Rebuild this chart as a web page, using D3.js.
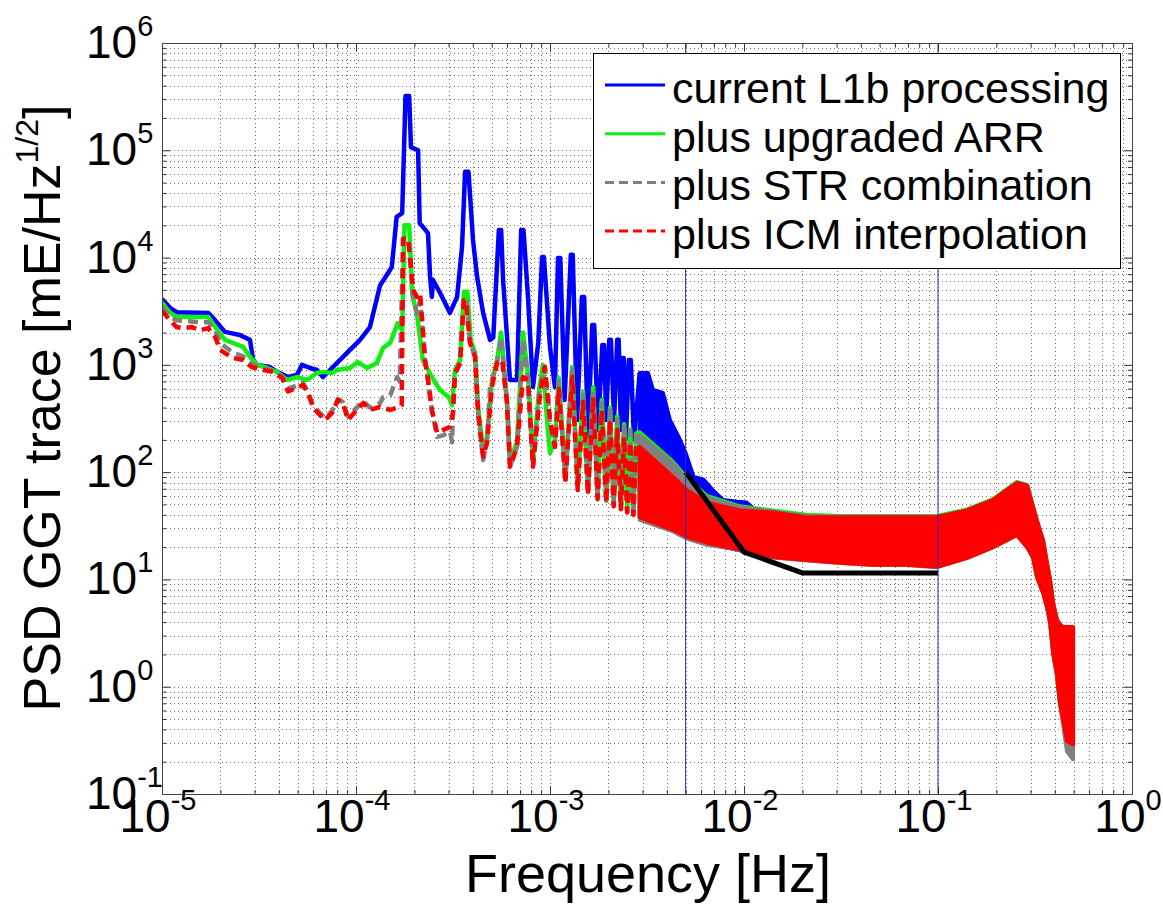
<!DOCTYPE html>
<html><head><meta charset="utf-8">
<script src="https://cdn.jsdelivr.net/npm/d3@7"></script>
<style>body{margin:0;background:#fff} svg{display:block} text{font-family:"Liberation Sans",Arial,sans-serif;fill:#000}</style>
</head><body><svg id="c" width="1163" height="908"></svg>
<script>
// ---------------- data (frequency [Hz], PSD value) ----------------
const xTickExps = [-5, -4, -3, -2, -1, 0];
const yTickExps = [-1, 0, 1, 2, 3, 4, 5, 6];
const seriesNames = ["current L1b processing", "plus upgraded ARR", "plus STR combination", "plus ICM interpolation"];
const seriesColors = ["#0000ff", "#11ee11", "#808080", "#ff0000"];

const blueLine = [
 [1.0e-5,4100],[1.1e-5,3400],[1.19e-5,3100],[1.73e-5,3050],[1.88e-5,2600],[2.11e-5,2030],[2.52e-5,1900],
 [2.84e-5,1710],[2.95e-5,1110],[3.09e-5,1000],[3.6e-5,955],[3.92e-5,860],[4.46e-5,770],[4.96e-5,805],
 [5.27e-5,1000],[5.8e-5,935],[6.29e-5,895],[6.76e-5,770],[7.61e-5,955],[9.31e-5,1380],[1.05e-4,1710],
 [1.18e-4,2250],[1.33e-4,5500],[1.5e-4,7700],[1.53e-4,8200],[1.62e-4,2.4e4],[1.73e-4,2.6e4],[1.8e-4,3.2e5],
 [1.88e-4,3.2e5],[1.92e-4,1.07e5],[2.09e-4,1.0e5],[2.13e-4,2.1e4],[2.35e-4,1.69e4],[2.41e-4,6600],
 [2.46e-4,4300],[2.49e-4,6200],[2.71e-4,4700],[3.05e-4,3050],[3.32e-4,4300],[3.52e-4,1.26e4],[3.65e-4,6.3e4],
 [3.8e-4,6.3e4],[4.01e-4,1.46e4],[4.21e-4,6600],[4.52e-4,3050],[4.91e-4,1710],[5.1e-4,1800],[5.45e-4,1.81e4],
 [5.6e-4,1.81e4],[5.73e-4,6200],[6.22e-4,723],[6.76e-4,723],[7.1e-4,1.81e4],[7.3e-4,1.81e4],[7.7e-4,4300],
 [8.17e-4,622],[8.7e-4,1600],[9.1e-4,1.01e4],[9.3e-4,1.01e4],[1.0e-3,1470],[1.06e-3,622],[1.1e-3,9900],
 [1.13e-3,9900],[1.19e-3,471],[1.28e-3,1.06e4],[1.31e-3,1.06e4],[1.38e-3,306],[1.46e-3,4300],[1.5e-3,4300],
 [1.57e-3,213],[1.65e-3,2350],[1.69e-3,2350],[1.77e-3,247],[1.86e-3,1530],[1.9e-3,1530],[1.95e-3,306],
 [2.02e-3,1710],[2.06e-3,1710],[2.14e-3,306],[2.22e-3,1710],[2.26e-3,1710],[2.32e-3,247],[2.36e-3,1160],
 [2.4e-3,1160],[2.46e-3,200],[2.55e-3,1110],[2.61e-3,1110],[2.71e-3,200],[2.9e-3,840]
];
// dense part drawn as a band: [freq, lower envelope, upper envelope]
const blueBand = [
 [2.9e-3,38,840],[3.2e-3,36,840],[3.4e-3,35,583],[3.82e-3,32,547],[4.15e-3,30,306],[4.6e-3,28,213],
 [5.0e-3,25,151],[5.5e-3,24,90],[6.2e-3,22,85],[6.9e-3,21,68],[7.8e-3,20,55],[9.2e-3,19,53],
 [1.03e-2,18,52],[1.15e-2,17,44],[1.5e-2,16,42]
];

const greenLine = [
 [1.0e-5,3800],[1.1e-5,3050],[1.19e-5,2800],[1.73e-5,2800],[1.88e-5,2250],[2.11e-5,1710],[2.62e-5,1470],
 [2.84e-5,1190],[3.09e-5,1000],[3.48e-5,935],[3.92e-5,860],[4.41e-5,723],[4.96e-5,770],[5.59e-5,723],
 [6.29e-5,840],[6.76e-5,860],[7.52e-5,840],[7.98e-5,895],[9.31e-5,935],[1.02e-4,1060],[1.14e-4,935],
 [1.28e-4,1040],[1.38e-4,1440],[1.5e-4,1600],[1.64e-4,2450],[1.73e-4,2100],[1.78e-4,2.0e4],[1.88e-4,2.0e4],
 [1.95e-4,4500],[2.06e-4,3000],[2.21e-4,1110],[2.46e-4,770],[2.71e-4,583],[3.0e-4,502],[3.13e-4,420],
 [3.24e-4,900],[3.44e-4,1100],[3.6e-4,4800],[3.75e-4,4800],[3.9e-4,1700],[4.11e-4,1300],[4.26e-4,400],
 [4.52e-4,160],[4.73e-4,210],[5.02e-4,700],[5.33e-4,1100],[5.6e-4,2000],[6.0e-4,450],[6.22e-4,130],
 [6.76e-4,190],[7.26e-4,2000],[7.7e-4,800],[8.17e-4,130],[8.8e-4,600],[9.2e-4,1000],[9.6e-4,350],
 [1.0e-3,150],[1.06e-3,200],[1.11e-3,750],[1.2e-3,90],[1.3e-3,950],[1.39e-3,75],[1.48e-3,560],
 [1.57e-3,68],[1.67e-3,620],[1.76e-3,62],[1.85e-3,470],[1.95e-3,56],[2.04e-3,400],[2.13e-3,52],
 [2.22e-3,330],[2.32e-3,48],[2.41e-3,280],[2.5e-3,45],[2.59e-3,250],[2.69e-3,42],[2.78e-3,230],[2.9e-3,235]
];
const greenBand = [
 [2.9e-3,38,235],[4.31e-3,29,125],
 [5.08e-3,25,88],[6.44e-3,22,60],[9.53e-3,19,48],[1.41e-2,16.2,44],[2.11e-2,15.2,40],[3.13e-2,14.3,39],
 [4.62e-2,13.7,39],[6.92e-2,13.7,39],[9.88e-2,13.1,39],[0.141,15.9,45],[0.192,20,56],[0.255,26,81],
 [0.288,20,76],[0.309,16,48],[0.324,10.5,35],[0.348,7.5,23],[0.365,5.5,14],[0.378,4,9.9],[0.392,2.07,6],
 [0.41,1.3,4.2],[0.425,0.71,3.8],[0.441,0.5,3.6],[0.462,0.31,3.6],[0.497,0.29,3.6]
];

const grayLine = [
 [1.0e-5,3500],[1.1e-5,2800],[1.19e-5,2600],[1.57e-5,2500],[1.73e-5,2500],[1.88e-5,2100],[1.99e-5,1600],
 [2.32e-5,1300],[2.62e-5,1200],[2.95e-5,1000],[3.32e-5,930],[3.74e-5,880],[4.16e-5,780],[4.46e-5,600],
 [4.96e-5,640],[5.33e-5,680],[5.66e-5,560],[6.0e-5,420],[6.37e-5,370],[6.92e-5,320],[7.52e-5,370],
 [8.07e-5,480],[8.57e-5,450],[9.09e-5,330],[1.01e-4,400],[1.09e-4,460],[1.18e-4,400],[1.33e-4,440],
 [1.38e-4,500],[1.5e-4,520],[1.63e-4,770],[1.68e-4,700],[1.75e-4,1.5e4],[1.86e-4,1.5e4],[1.97e-4,4300],
 [2.06e-4,3000],[2.14e-4,4000],[2.27e-4,1110],[2.35e-4,723],[2.46e-4,380],[2.62e-4,213],[2.81e-4,220],
 [3.05e-4,240],[3.13e-4,190],[3.16e-4,356],[3.24e-4,840],[3.44e-4,1040],[3.6e-4,4200],[3.7e-4,4200],
 [3.87e-4,1600],[4.11e-4,1190],[4.26e-4,356],[4.52e-4,130],[4.73e-4,187],[4.91e-4,622],[5.33e-4,1040],
 [5.6e-4,1800],[6.0e-4,450],[6.22e-4,112],[6.76e-4,172],[7.26e-4,1700],[7.7e-4,723],[8.17e-4,112],
 [8.8e-4,547],[9.4e-4,955],[1.0e-3,306],[1.06e-3,172],[1.11e-3,700],[1.2e-3,85],[1.3e-3,900],
 [1.39e-3,72],[1.48e-3,520],[1.57e-3,65],[1.67e-3,580],[1.76e-3,60],[1.85e-3,440],[1.95e-3,54],
 [2.04e-3,380],[2.13e-3,50],[2.22e-3,310],[2.32e-3,46],[2.41e-3,265],[2.5e-3,43],[2.59e-3,240],
 [2.69e-3,40],[2.78e-3,220],[2.9e-3,220]
];
const grayBand = [
 [2.9e-3,36,220],[4.31e-3,28,120],
 [5.08e-3,24,85],[6.44e-3,21,58],[9.53e-3,19,47],[1.41e-2,16,43],[2.11e-2,15,39],[3.13e-2,14.2,38.5],
 [4.62e-2,13.6,38.5],[6.92e-2,13.6,38.5],[9.88e-2,13,38.5],[0.141,15.8,44],[0.192,20,55],[0.255,26,80],
 [0.288,20,75],[0.309,16,47],[0.324,10.5,35],[0.348,7.5,23],[0.365,5.5,14],[0.378,4,9.9],[0.392,2.07,6],
 [0.41,1.3,4.2],[0.425,0.7,3.8],[0.441,0.45,3.6],[0.462,0.25,3.6],[0.497,0.21,3.6]
];

const redLine = [
 [1.0e-5,3200],[1.1e-5,2600],[1.19e-5,2250],[1.28e-5,2200],[1.43e-5,2250],[1.57e-5,2100],[1.73e-5,2200],
 [1.88e-5,1820],[1.99e-5,1380],[2.32e-5,1160],[2.62e-5,1110],[2.9e-5,955],[3.32e-5,895],[3.74e-5,860],
 [4.16e-5,755],[4.46e-5,565],[4.96e-5,609],[5.33e-5,650],[5.66e-5,547],[6.0e-5,405],[6.37e-5,356],
 [6.92e-5,306],[7.52e-5,356],[8.07e-5,471],[8.57e-5,442],[9.09e-5,306],[1.01e-4,380],[1.09e-4,442],
 [1.18e-4,380],[1.33e-4,405],[1.5e-4,380],[1.68e-4,405],[1.72e-4,420],[1.75e-4,1.5e4],[1.86e-4,1.5e4],
 [1.97e-4,5000],[2.06e-4,4300],[2.14e-4,4700],[2.27e-4,1110],[2.35e-4,723],[2.46e-4,380],[2.62e-4,232],
 [2.81e-4,247],[3.05e-4,264],[3.16e-4,356],[3.24e-4,840],[3.44e-4,1040],[3.6e-4,4000],[3.68e-4,4000],
 [3.87e-4,1600],[4.11e-4,1190],[4.26e-4,356],[4.52e-4,139],[4.73e-4,187],[5.02e-4,622],[5.33e-4,1040],
 [5.66e-4,1110],[6.0e-4,450],[6.22e-4,112],[6.76e-4,172],[7.26e-4,770],[7.7e-4,723],[8.17e-4,112],
 [8.9e-4,547],[9.4e-4,955],[1.0e-3,306],[1.06e-3,172],[1.11e-3,600],[1.2e-3,80],[1.3e-3,770],
 [1.39e-3,68],[1.48e-3,450],[1.57e-3,62],[1.67e-3,500],[1.76e-3,56],[1.85e-3,380],[1.95e-3,52],
 [2.04e-3,306],[2.13e-3,48],[2.22e-3,250],[2.32e-3,45],[2.41e-3,213],[2.5e-3,42],[2.59e-3,190],
 [2.69e-3,40],[2.78e-3,175],[2.9e-3,172]
];
const redBand = [
 [2.9e-3,38,172],[4.31e-3,29,90],
 [5.08e-3,25,68],[6.44e-3,22,52],[9.53e-3,19,44],[1.41e-2,16.2,42],[2.11e-2,15.2,38],[3.13e-2,14.3,38],
 [4.62e-2,13.7,38],[6.92e-2,13.7,38],[9.88e-2,13.1,38],[0.141,15.9,44],[0.192,20,55],[0.255,26,79],
 [0.288,20,75],[0.309,16,47],[0.324,10.5,35],[0.348,7.5,23],[0.365,5.5,14],[0.378,4,9.9],[0.392,2.07,6],
 [0.41,1.3,4.2],[0.425,0.71,3.8],[0.441,0.5,3.6],[0.462,0.31,3.6],[0.497,0.29,3.6]
];

const reqFreq = [5e-3, 1e-2, 2e-2, 1e-1];
const reqValue = [100, 18, 11.5, 11.5];
const bandEdges = [5e-3, 1e-1];

// ---------------- drawing ----------------
const W = 1163, H = 908;
const L = 162, R = 1132, T = 43, B = 794;
const x = d3.scaleLog().domain([1e-5, 1]).range([L, R]);
const y = d3.scaleLog().domain([0.1, 1e6]).range([B, T]);
const svg = d3.select('#c');
svg.append('rect').attr('width', W).attr('height', H).attr('fill', '#fff');

svg.append('defs').append('clipPath').attr('id', 'clip')
  .append('rect').attr('x', L).attr('y', T).attr('width', R - L).attr('height', B - T);

const xMinor = [], yMinor = [];
xTickExps.slice(0, -1).forEach(e => { for (let k = 2; k < 10; k++) xMinor.push(k * Math.pow(10, e)); });
yTickExps.slice(0, -1).forEach(e => { for (let k = 2; k < 10; k++) yMinor.push(k * Math.pow(10, e)); });
const xMajor = xTickExps.map(e => Math.pow(10, e));
const yMajor = yTickExps.map(e => Math.pow(10, e));

const grid = svg.append('g').attr('stroke', '#000').attr('stroke-width', 1)
  .attr('stroke-dasharray', '1,3').attr('stroke-opacity', 0.55).attr('shape-rendering', 'crispEdges');
xMajor.concat(xMinor).forEach(v => {
  grid.append('line').attr('x1', Math.round(x(v)) + 0.5).attr('x2', Math.round(x(v)) + 0.5).attr('y1', T).attr('y2', B);
});
yMajor.concat(yMinor).forEach(v => {
  grid.append('line').attr('y1', Math.round(y(v)) + 0.5).attr('y2', Math.round(y(v)) + 0.5).attr('x1', L).attr('x2', R);
});

const plot = svg.append('g').attr('clip-path', 'url(#clip)');
const line = d3.line().x(d => x(d[0])).y(d => y(d[1]));
const area = d3.area().x(d => x(d[0])).y0(d => y(d[1])).y1(d => y(d[2]));

function drawSeries(lineData, bandData, color, dashed) {
  plot.append('path').datum(bandData).attr('d', area)
    .attr('fill', color).attr('stroke', color).attr('stroke-width', 4).attr('stroke-linejoin', 'round');
  const p = plot.append('path').datum(lineData).attr('d', line)
    .attr('fill', 'none').attr('stroke', color).attr('stroke-width', 4.5).attr('stroke-linejoin', 'round');
  if (dashed) p.attr('stroke-dasharray', '10,6');
}
drawSeries(blueLine, blueBand, seriesColors[0], false);
drawSeries(greenLine, greenBand, seriesColors[1], false);
drawSeries(grayLine, grayBand, seriesColors[2], true);
drawSeries(redLine, redBand, seriesColors[3], true);

plot.append('path').datum(reqFreq.map((f, i) => [f, reqValue[i]])).attr('d', line)
  .attr('fill', 'none').attr('stroke', '#000').attr('stroke-width', 5);

bandEdges.forEach(f => {
  svg.append('line').attr('x1', x(f)).attr('x2', x(f)).attr('y1', T).attr('y2', B)
    .attr('stroke', '#2a2acc').attr('stroke-width', 1);
});

const tickStyle = g => { g.select('.domain').remove(); g.selectAll('line').attr('stroke', '#333'); g.selectAll('text').remove(); };
svg.append('g').attr('transform', `translate(0,${B})`).call(d3.axisBottom(x).tickValues(xMajor).tickSize(-8)).call(tickStyle);
svg.append('g').attr('transform', `translate(0,${B})`).call(d3.axisBottom(x).tickValues(xMinor).tickSize(-4)).call(tickStyle);
svg.append('g').attr('transform', `translate(0,${T})`).call(d3.axisTop(x).tickValues(xMajor).tickSize(-8)).call(tickStyle);
svg.append('g').attr('transform', `translate(0,${T})`).call(d3.axisTop(x).tickValues(xMinor).tickSize(-4)).call(tickStyle);
svg.append('g').attr('transform', `translate(${L},0)`).call(d3.axisLeft(y).tickValues(yMajor).tickSize(-8)).call(tickStyle);
svg.append('g').attr('transform', `translate(${L},0)`).call(d3.axisLeft(y).tickValues(yMinor).tickSize(-4)).call(tickStyle);
svg.append('g').attr('transform', `translate(${R},0)`).call(d3.axisRight(y).tickValues(yMajor).tickSize(-8)).call(tickStyle);
svg.append('g').attr('transform', `translate(${R},0)`).call(d3.axisRight(y).tickValues(yMinor).tickSize(-4)).call(tickStyle);
svg.append('rect').attr('x', L + 0.5).attr('y', T + 0.5).attr('width', R - L).attr('height', B - T)
  .attr('fill', 'none').attr('stroke', '#444').attr('stroke-width', 1);

// tick labels
xTickExps.forEach(e => {
  const t = svg.append('text').attr('x', x(Math.pow(10, e)) - 4).attr('y', B + 38).attr('text-anchor', 'middle').attr('font-size', 46);
  t.append('tspan').text('10');
  t.append('tspan').attr('font-size', 29).attr('dy', -22).text(String(e));
});
yTickExps.forEach(e => {
  const t = svg.append('text').attr('x', 86).attr('y', y(Math.pow(10, e)) + 15).attr('text-anchor', 'start').attr('font-size', 46);
  t.append('tspan').text('10');
  t.append('tspan').attr('font-size', 29).attr('dy', -22).text(String(e));
});

// axis titles
svg.append('text').attr('x', 648).attr('y', 892).attr('text-anchor', 'middle').attr('font-size', 54).text('Frequency [Hz]');
const yl = svg.append('text').attr('transform', `translate(60,${408}) rotate(-90)`)
  .attr('text-anchor', 'middle').attr('font-size', 52);
yl.append('tspan').text('PSD GGT trace [mE/Hz');
yl.append('tspan').attr('font-size', 32).attr('dy', -22).text('1/2');
yl.append('tspan').attr('dy', 22).text(']');

// legend
const lg = svg.append('g');
lg.append('rect').attr('x', 593.5).attr('y', 53.5).attr('width', 527).attr('height', 215)
  .attr('fill', '#fff').attr('stroke', '#000').attr('stroke-width', 1);
seriesNames.forEach((name, i) => {
  const ry = 85 + i * 48.7;
  const l = lg.append('line').attr('x1', 605).attr('x2', 665).attr('y1', ry).attr('y2', ry)
    .attr('stroke', seriesColors[i]).attr('stroke-width', 3);
  if (i >= 2) l.attr('stroke-dasharray', '9,5');
  lg.append('text').attr('x', 672).attr('y', ry + 18).attr('font-size', 43).text(name);
});
</script></body></html>
